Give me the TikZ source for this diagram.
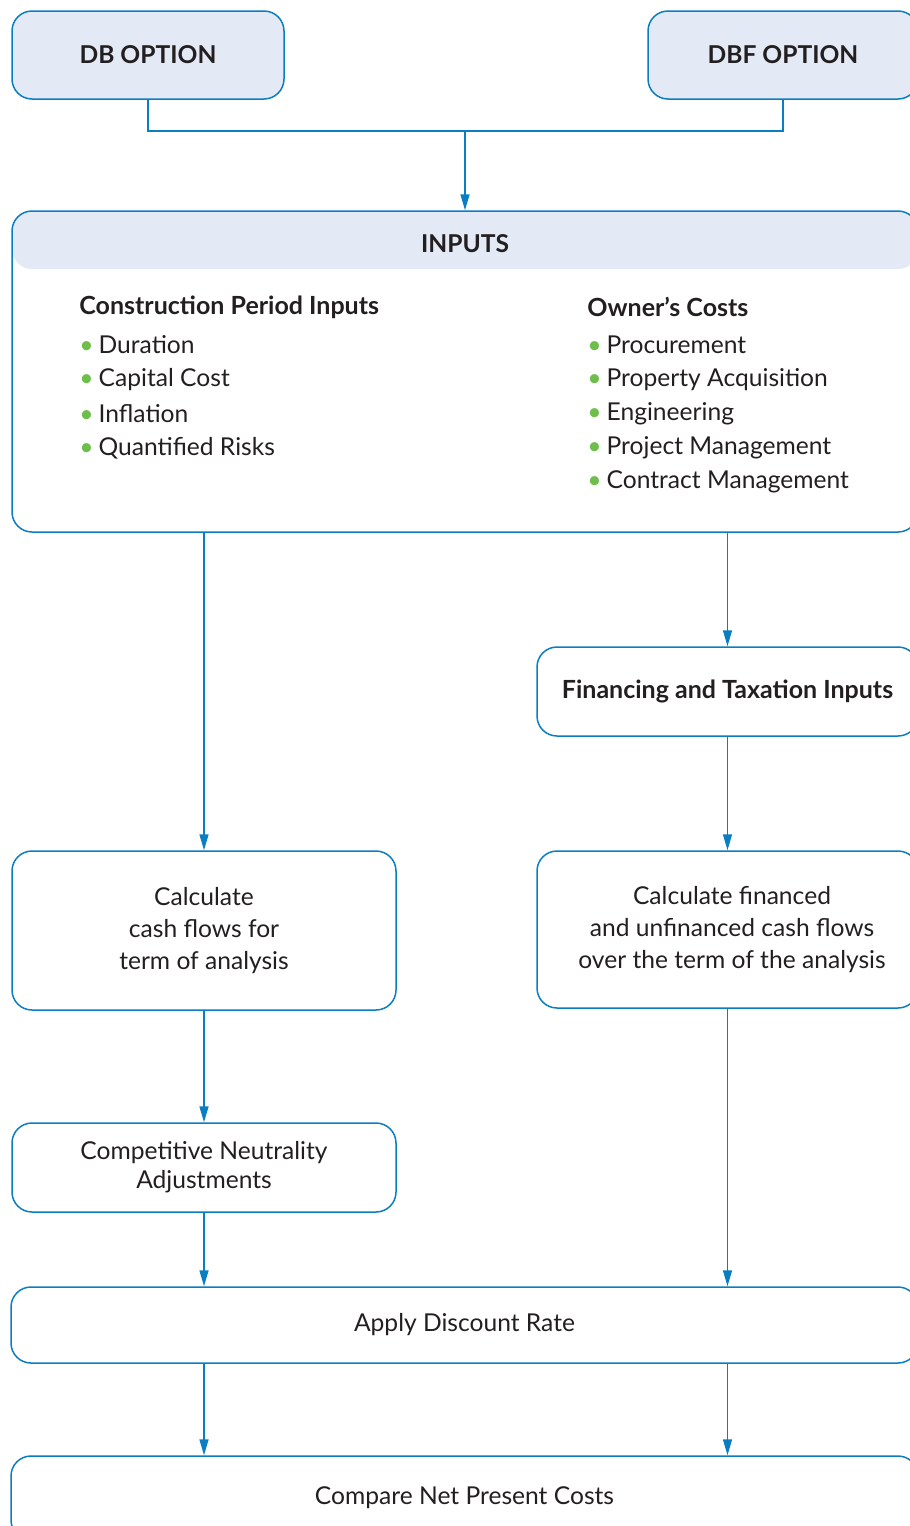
\documentclass[tikz,border=0pt]{standalone}
\usepackage{fontspec}
\setmainfont{Lato}
\usetikzlibrary{arrows.meta}

\definecolor{lineblue}{HTML}{0B7DC3}
\definecolor{headfill}{HTML}{E3EAF5}
\definecolor{dotgreen}{HTML}{6DBE4B}
\definecolor{txt}{HTML}{231F20}

\tikzset{
    box/.style={draw=lineblue, line width=0.75pt, rounded corners=10pt, text=txt, align=center, font=\fontsize{12.3}{16}\selectfont},
    optbox/.style={box, fill=headfill, font=\fontsize{12.3}{16}\selectfont\bfseries},
    flow/.style={lineblue, line width=0.75pt, -{Triangle[width=4.5pt,length=8pt]}},
    item/.style={anchor=west, text=txt, inner sep=0pt, font=\fontsize{12.3}{14}\selectfont},
}
\newcommand{\dotitem}[1]{\textcolor{dotgreen}{\textbullet}\hspace{2.5pt}#1}

\begin{document}
\begin{tikzpicture}[x=0.5pt, y=-0.5pt]
    \useasboundingbox (0,0) rectangle (910,1526);

    % options
    \node[optbox, minimum width=136pt, minimum height=44pt] (db) at (148,55) {DB OPTION};
    \node[optbox, minimum width=135pt, minimum height=44pt] (dbf) at (783,55) {DBF OPTION};

    % inputs box with shaded header
    \node[box, minimum width=453pt, minimum height=160.5pt,
        path picture={\fill[headfill] (path picture bounding box.north west) rectangle ([yshift=-29pt]path picture bounding box.north east);}]
        (inputs) at (465,371.5) {};
    \node[text=txt, font=\fontsize{12.3}{14}\selectfont\bfseries] (inputstitle) at (465,244) {INPUTS};

    \node[item, font=\fontsize{12.5}{14}\selectfont\bfseries] (cphead) at (79,307) {Construction Period Inputs};
    \foreach \t [count=\i] in {Duration, Capital Cost, Inflation, Quantified Risks}
        \node[item] (cp\i) at (79,345+34.3*\i-34.3) {\dotitem{\t}};

    \node[item, font=\fontsize{12.5}{14}\selectfont\bfseries] (ochead) at (587,307) {Owner’s Costs};
    \foreach \t [count=\i] in {Procurement, Property Acquisition, Engineering, Project Management, Contract Management}
        \node[item] (oc\i) at (587,345+34.3*\i-34.3) {\dotitem{\t}};

    % process boxes
    \node[box, font=\fontsize{12.5}{16}\selectfont\bfseries, minimum width=190.5pt, minimum height=44.5pt] (fin) at (727.5,691.5) {Financing and Taxation Inputs};
    \node[box, minimum width=192pt, minimum height=79.5pt] (calcl) at (204,930.5) {Calculate\\cash flows for\\term of analysis};
    \node[box, minimum width=190.5pt, minimum height=78.5pt] (calcr) at (727.5,929.5) {\hspace*{4.5pt}Calculate financed\\\hspace*{4.5pt}and unfinanced cash flows\\\hspace*{4.5pt}over the term of the analysis};
    \node[box, font=\fontsize{12.3}{14.5}\selectfont, minimum width=192pt, minimum height=44.5pt] (neutral) at (204,1167.5) {Competitive Neutrality\\Adjustments};
    \node[box, minimum width=453.5pt, minimum height=38pt] (discount) at (464.5,1325) {Apply Discount Rate};
    \node[box, minimum width=453.5pt, minimum height=42pt] (compare) at (464.5,1498) {Compare Net Present Costs};

    % connectors
    \coordinate (join) at (465,131);
    \draw[lineblue, line width=0.75pt] (db.south) |- (join) -| (dbf.south);
    \draw[flow] (join) -- (inputs.north);

    \draw[flow] (inputs.south -| calcl.north) -- (calcl.north);
    \draw[flow] (inputs.south -| fin.north) -- (fin.north);
    \draw[flow] (fin) -- (calcr);
    \draw[flow] (calcl) -- (neutral);
    \draw[flow] (neutral.south) -- (neutral.south |- discount.north);
    \draw[flow] (calcr.south) -- (calcr.south |- discount.north);
    \draw[flow] (discount.south -| neutral) -- (compare.north -| neutral);
    \draw[flow] (discount.south -| calcr) -- (compare.north -| calcr);

\end{tikzpicture}
\end{document}
